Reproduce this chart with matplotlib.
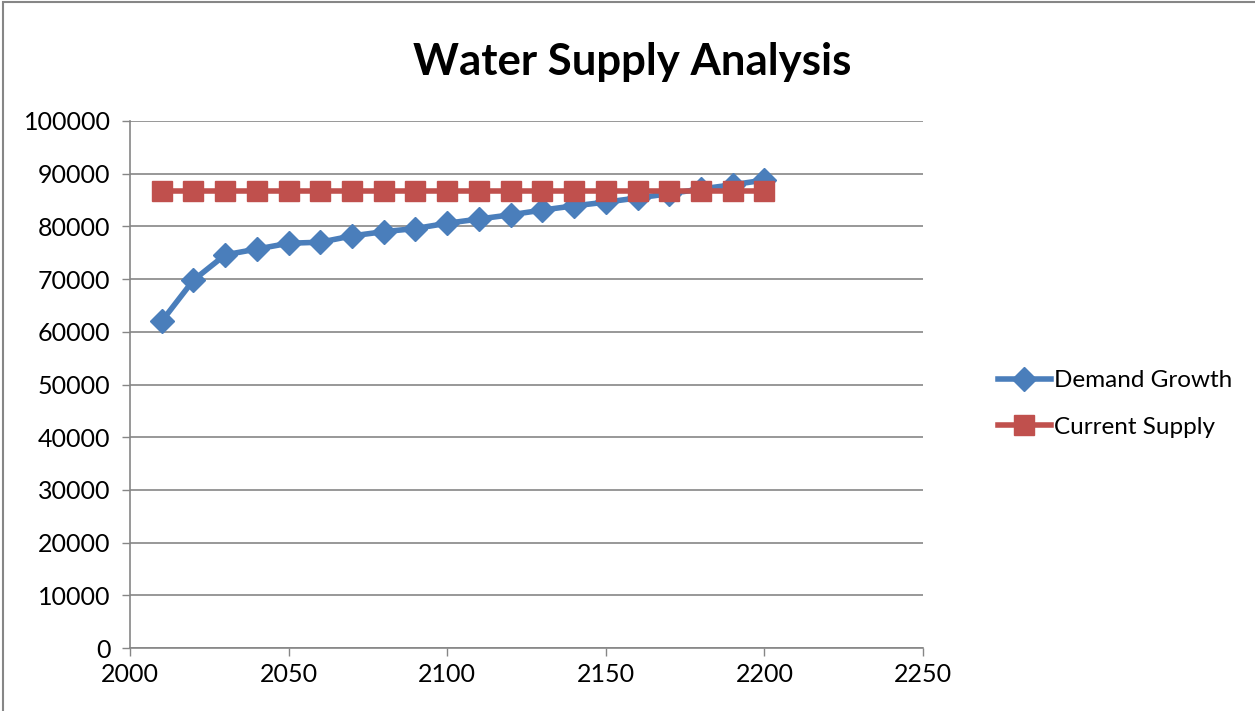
import matplotlib
matplotlib.use('Agg')
import matplotlib.pyplot as plt
from matplotlib.patches import Rectangle

# valores
anos = [2010, 2020, 2030, 2040, 2050, 2060, 2070, 2080, 2090, 2100,
        2110, 2120, 2130, 2140, 2150, 2160, 2170, 2180, 2190, 2200]
demanda = [62000, 69800, 74600, 75700, 76800, 77000, 78200, 79000, 79600, 80600,
           81400, 82200, 83100, 83900, 84600, 85400, 86200, 87100, 87900, 88800]
oferta = [86700] * len(anos)

x_ticks = [2000, 2050, 2100, 2150, 2200, 2250]
y_ticks = list(range(0, 100001, 10000))

plt.rcParams['font.family'] = ['Lato', 'DejaVu Sans']

fig = plt.figure(figsize=(12.55, 7.11), dpi=100)
ax = fig.add_axes([130 / 1255, 1 - 648 / 711, (923 - 130) / 1255, (648 - 121) / 711])

azul = '#4A7EBB'
vermelho = '#C0504D'

ax.plot(anos, demanda, color=azul, lw=4, marker='D', ms=12,
        mec=azul, mfc=azul, label='Demand Growth', zorder=3)
ax.plot(anos, oferta, color=vermelho, lw=4, marker='s', ms=14,
        mec=vermelho, mfc=vermelho, label='Current Supply', zorder=4)

ax.set_xlim(2000, 2250)
ax.set_ylim(0, 100000)
ax.set_xticks(x_ticks)
ax.set_yticks(y_ticks)
ax.tick_params(labelsize=18, colors='#868686', labelcolor='black', length=6,
               direction='out', width=1)
ax.tick_params(axis='y', pad=8)
ax.tick_params(axis='x', pad=5)
ax.yaxis.grid(True, color='#868686', lw=1.2)
ax.set_axisbelow(True)
for s in ['top', 'right']:
    ax.spines[s].set_visible(False)
for s in ['left', 'bottom']:
    ax.spines[s].set_color('#868686')
    ax.spines[s].set_linewidth(1.2)

fig.text(632 / 1255, 1 - 62 / 711, 'Water Supply Analysis', ha='center', va='center',
         fontsize=31.5, fontweight='bold')

fig.legend(loc='center left', bbox_to_anchor=(988 / 1255, 1 - 404 / 711),
           frameon=False, fontsize=17.5, handlelength=2.2, handletextpad=0.1,
           labelspacing=1.05, borderaxespad=0)

# borda do gráfico
fig.patches.append(Rectangle((3 / 1255, -0.1), 1.2, 1 - 1.5 / 711 + 0.1,
                             transform=fig.transFigure, fill=False,
                             edgecolor='#868686', lw=1.5))

fig.savefig('out.png', dpi=100)
